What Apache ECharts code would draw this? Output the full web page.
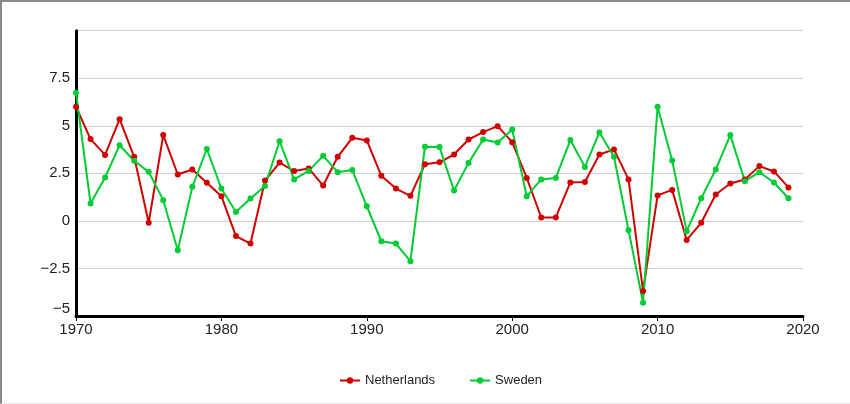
<!DOCTYPE html>
<html>
<head>
<meta charset="utf-8">
<script src="https://cdn.jsdelivr.net/npm/echarts@6/dist/echarts.min.js"></script>
<style>
html,body{margin:0;padding:0;background:#fff;}
#wrap{position:absolute;left:0;top:0;width:850px;height:404px;box-sizing:border-box;border-left:2px solid #8a8a8a;border-top:2px solid #8a8a8a;border-bottom:1px solid #e8e8e8;}
#chart{position:absolute;left:0;top:0;width:850px;height:404px;}
</style>
</head>
<body>
<div id="wrap"></div>
<div id="chart"></div>
<script>
const years = [];
for (let y = 1970; y <= 2019; y++) years.push(y);
const netherlands = [6.0, 4.3, 3.47, 5.35, 3.37, -0.1, 4.51, 2.44, 2.7, 2.0,
  1.3, -0.8, -1.19, 2.12, 3.07, 2.62, 2.76, 1.86, 3.37, 4.37,
  4.23, 2.37, 1.7, 1.32, 2.98, 3.08, 3.49, 4.28, 4.67, 4.98,
  4.14, 2.26, 0.18, 0.18, 2.02, 2.05, 3.49, 3.76, 2.18, -3.68,
  1.34, 1.63, -1.0, -0.1, 1.39, 1.97, 2.18, 2.88, 2.6, 1.76];
const sweden = [6.74, 0.92, 2.28, 3.98, 3.16, 2.58, 1.09, -1.54, 1.79, 3.78,
  1.7, 0.47, 1.18, 1.84, 4.19, 2.18, 2.63, 3.42, 2.56, 2.68,
  0.77, -1.07, -1.19, -2.12, 3.9, 3.88, 1.6, 3.05, 4.28, 4.12,
  4.81, 1.3, 2.18, 2.26, 4.25, 2.84, 4.65, 3.37, -0.49, -4.3,
  6.0, 3.18, -0.54, 1.19, 2.7, 4.51, 2.09, 2.56, 2.02, 1.19];
const seriesNames = ['Netherlands', 'Sweden'];
const seriesColors = ['#d10000', '#00cc33'];

const chart = echarts.init(document.getElementById('chart'));
const mk = (name, vals, color) => ({
  name: name, type: 'line', data: years.map((y, i) => [y, vals[i]]),
  symbol: 'circle', symbolSize: 6, showSymbol: true,
  lineStyle: {width: 2, color: color}, itemStyle: {color: color},
  emphasis: {disabled: true}, animation: false
});
chart.setOption({
  animation: false,
  grid: {left: 76, right: 47, top: 30.7, bottom: 88, containLabel: false},
  legend: {
    bottom: 12, left: 334, itemGap: 34, itemWidth: 20, itemHeight: 8,
    textStyle: {fontFamily: 'Liberation Sans', fontSize: 13, color: '#222'},
    data: seriesNames
  },
  xAxis: {
    type: 'value', min: 1970, max: 2020, interval: 10,
    axisLine: {show: true, onZero: false, lineStyle: {color: '#000', width: 3}},
    axisTick: {show: true, length: 5, lineStyle: {color: '#000', width: 1}},
    axisLabel: {color: '#222', fontFamily: 'Liberation Sans', fontSize: 15, margin: 6, formatter: v => String(v)},
    splitLine: {show: false}
  },
  yAxis: {
    type: 'value', min: -5, max: 10, interval: 2.5,
    axisLine: {show: true, lineStyle: {color: '#000', width: 3}},
    axisTick: {show: false},
    axisLabel: {color: '#222', fontFamily: 'Liberation Sans', fontSize: 15, margin: 6,
      verticalAlignMinLabel: 'bottom',
      formatter: v => v === 10 ? '' : String(v).replace('-', '\u2212')},
    splitLine: {show: true, lineStyle: {color: '#d0d0d0', width: 1}}
  },
  series: [mk(seriesNames[0], netherlands, seriesColors[0]), mk(seriesNames[1], sweden, seriesColors[1])]
});
</script>
</body>
</html>
